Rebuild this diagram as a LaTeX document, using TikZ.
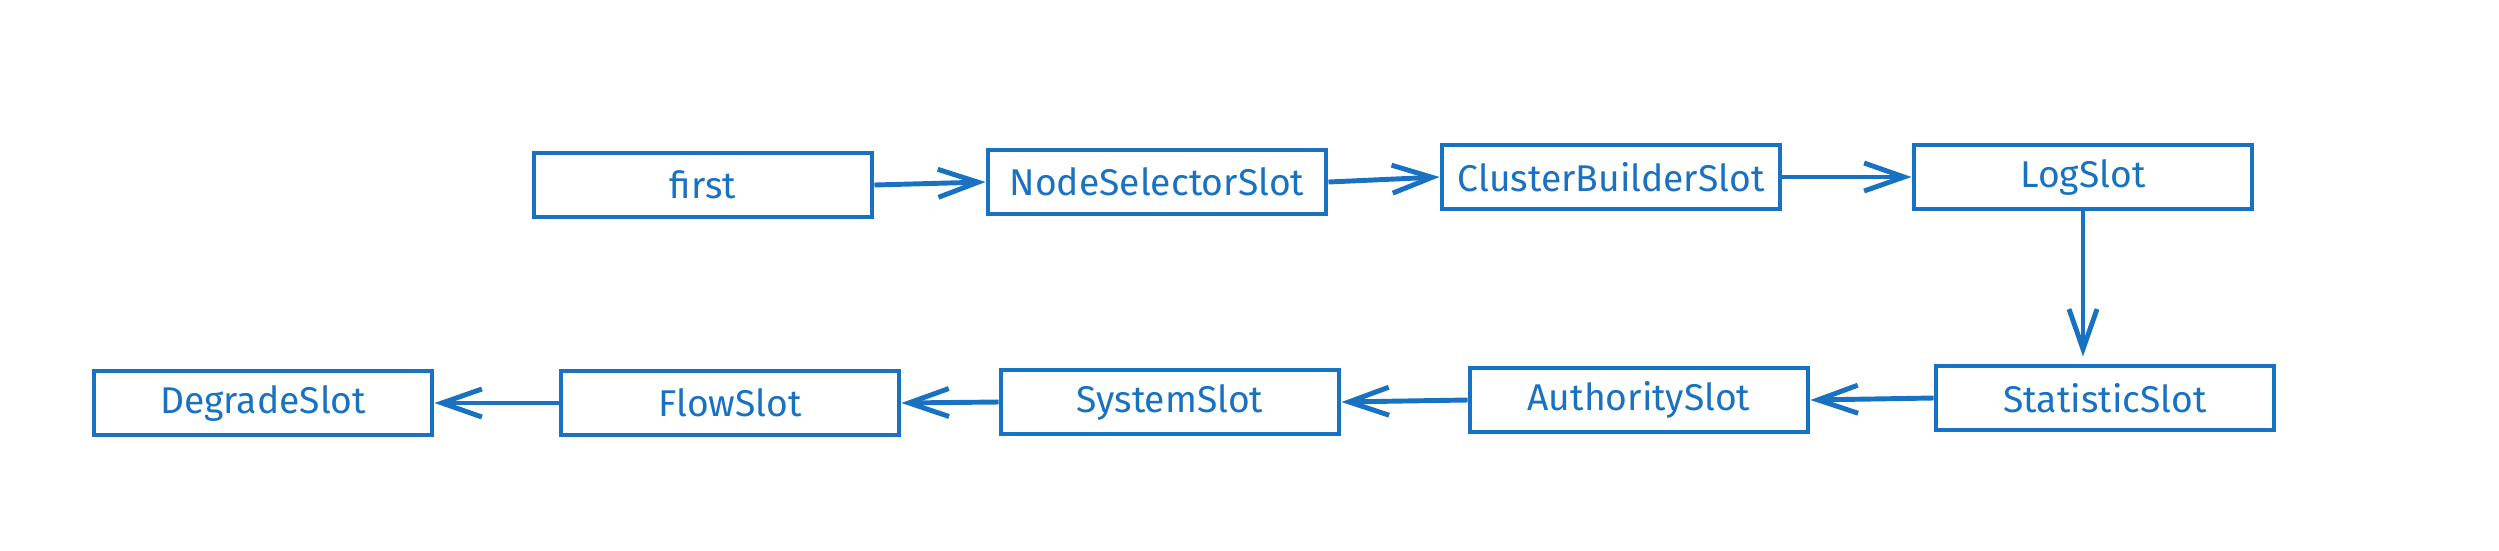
\documentclass[tikz,border=0pt]{standalone}
\usepackage{fontspec}
\setmainfont{Fira Sans}
\usepackage{tikz}
\usepackage{xcolor}
\usetikzlibrary{arrows.meta}
\definecolor{xl_blue}{RGB}{25,113,194}

\begin{document}
\begin{tikzpicture}[
            slot/.style={draw=xl_blue,line width=1.4pt,text=xl_blue,minimum width=3.38cm,minimum height=0.64cm,inner sep=0pt,font=\fontsize{10.6}{13}\selectfont},
            flow/.style={xl_blue,line width=1.4pt,-{Straight Barb[length=4mm,width=2.8mm,line width=1.4pt]}}]
            \useasboundingbox (0,0) rectangle (24.99,5.5);
            %上段
            \node[slot] (first) at (7.03,3.65) {first};
            \node[slot] (NodeSelectorSlot) at (11.57,3.68) {NodeSelectorSlot};
            \node[slot] (ClusterBuilderSlot) at (16.11,3.73) {ClusterBuilderSlot};
            \node[slot] (LogSlot) at (20.83,3.73) {LogSlot};
            %下段
            \node[slot] (StatisticSlot) at (21.05,1.52) {StatisticSlot};
            \node[slot] (AuthoritySlot) at (16.39,1.50) {AuthoritySlot};
            \node[slot] (SystemSlot) at (11.70,1.48) {SystemSlot};
            \node[slot] (FlowSlot) at (7.30,1.47) {FlowSlot};
            \node[slot] (DegradeSlot) at (2.63,1.47) {DegradeSlot};
            %矢印
            \draw[flow] (first.east)--(NodeSelectorSlot.west);
            \draw[flow] (NodeSelectorSlot.east)--(ClusterBuilderSlot.west);
            \draw[flow] (ClusterBuilderSlot.east)--(LogSlot.west);
            \draw[flow,shorten >=2pt] (LogSlot.south)--(LogSlot.south |- StatisticSlot.north);
            \draw[flow] (StatisticSlot.west)--(AuthoritySlot.east);
            \draw[flow] (AuthoritySlot.west)--(SystemSlot.east);
            \draw[flow] (SystemSlot.west)--(FlowSlot.east);
            \draw[flow] (FlowSlot.west)--(DegradeSlot.east);
        \end{tikzpicture}
\end{document}
